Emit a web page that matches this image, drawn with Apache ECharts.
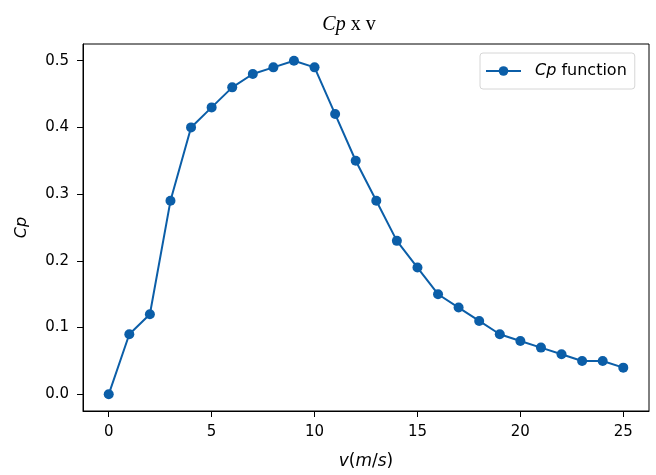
<!DOCTYPE html>
<html>
<head>
<meta charset="utf-8">
<script src="https://cdn.jsdelivr.net/npm/echarts@6/dist/echarts.min.js"></script>
<style>
  html, body { margin: 0; padding: 0; background: #fff; }
  #chart { width: 656px; height: 475px; }
</style>
</head>
<body>
<div id="chart"></div>
<script>
// wind speed v (m/s)
const speeds = [0, 1, 2, 3, 4, 5, 6, 7, 8, 9, 10, 11, 12, 13, 14, 15, 16, 17, 18, 19, 20, 21, 22, 23, 24, 25];
// power coefficient Cp
const cpValues = [0.0, 0.09, 0.12, 0.29, 0.40, 0.43, 0.46, 0.48, 0.49, 0.50, 0.49, 0.42, 0.35, 0.29, 0.23, 0.19, 0.15, 0.13, 0.11, 0.09, 0.08, 0.07, 0.06, 0.05, 0.05, 0.04];
const xTicks = [0, 5, 10, 15, 20, 25];
const yTicks = [0.0, 0.1, 0.2, 0.3, 0.4, 0.5];

const blue = '#0b5ea8';
const font = 'DejaVu Sans';

const chart = echarts.init(document.getElementById('chart'));

const option = {
  backgroundColor: '#fff',
  animation: false,
  title: {
    text: '{i|Cp} x v',
    left: 344,
    textAlign: 'center',
    top: 10,
    textStyle: {
      fontFamily: 'Liberation Serif',
      fontSize: 20,
      fontWeight: 'normal',
      color: '#000',
      rich: {
        i: { fontFamily: 'Liberation Serif', fontSize: 20, fontStyle: 'italic', color: '#000' }
      }
    }
  },
  legend: {
    data: ['Cp function'],
    left: 480,
    top: 53,
    padding: [10, 8, 10, 5],
    itemWidth: 35,
    itemHeight: 12,
    backgroundColor: '#fff',
    borderColor: '#d6d6d6',
    borderWidth: 1,
    borderRadius: 3,
    formatter: function () { return '{i|Cp} function'; },
    textStyle: {
      fontFamily: font,
      fontSize: 16,
      color: '#000',
      padding: [0, 0, 0, 9],
      rich: {
        i: { fontFamily: font, fontSize: 16, fontStyle: 'italic', color: '#000' }
      }
    }
  },
  grid: {
    left: 83,
    right: 7,
    top: 44,
    bottom: 62,
    show: true,
    borderColor: '#000',
    borderWidth: 1
  },
  xAxis: {
    type: 'value',
    min: -1.25,
    max: 26.25,
    name: '{i|v}{n|(}{i|m}{n|/}{i|s}{n|)}',
    nameLocation: 'middle',
    nameGap: 42,
    nameTextStyle: {
      rich: {
        i: { fontFamily: font, fontSize: 17, fontStyle: 'italic', color: '#000' },
        n: { fontFamily: font, fontSize: 17, color: '#000' }
      }
    },
    axisLine: { show: true, onZero: false, lineStyle: { color: '#000', width: 1 } },
    axisTick: { show: true, length: 6, customValues: xTicks, lineStyle: { color: '#000' } },
    axisLabel: {
      customValues: xTicks,
      fontFamily: font,
      fontSize: 15,
      color: '#000',
      margin: 14
    },
    splitLine: { show: false }
  },
  yAxis: {
    type: 'value',
    min: -0.025,
    max: 0.525,
    name: 'Cp',
    nameLocation: 'middle',
    nameGap: 53,
    nameTextStyle: {
      fontFamily: font,
      fontSize: 16,
      fontStyle: 'italic',
      color: '#000'
    },
    axisLine: { show: true, onZero: false, lineStyle: { color: '#000', width: 1 } },
    axisTick: { show: true, length: 6, customValues: yTicks, lineStyle: { color: '#000' } },
    axisLabel: {
      customValues: yTicks,
      fontFamily: font,
      fontSize: 15,
      color: '#000',
      margin: 14,
      formatter: function (v) { return v.toFixed(1); }
    },
    splitLine: { show: false }
  },
  series: [{
    name: 'Cp function',
    type: 'line',
    data: speeds.map((v, i) => [v, cpValues[i]]),
    symbol: 'circle',
    symbolSize: 10,
    showAllSymbol: true,
    lineStyle: { color: blue, width: 2 },
    itemStyle: { color: blue }
  }]
};

chart.setOption(option);
</script>
</body>
</html>
